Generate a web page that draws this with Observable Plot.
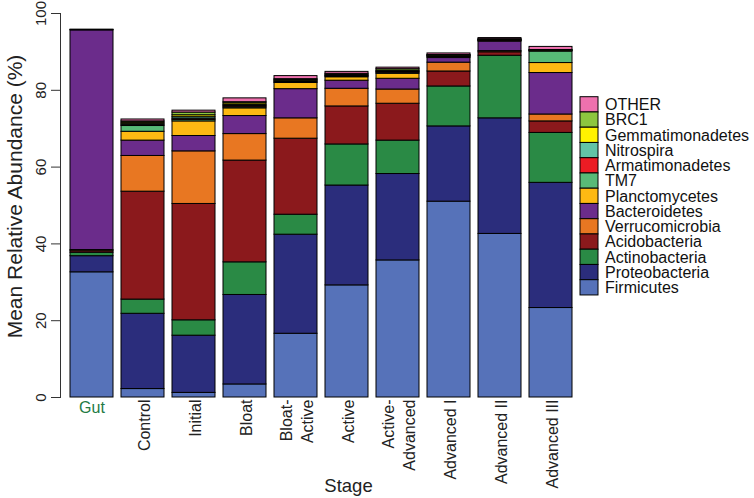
<!DOCTYPE html>
<html>
<head>
<meta charset="utf-8">
<script src="https://cdn.jsdelivr.net/npm/d3@7"></script>
<script src="https://cdn.jsdelivr.net/npm/@observablehq/plot@0.6"></script>
<style>
  body { margin: 0; background: #fff; }
  #chart svg { display: block; }
</style>
</head>
<body>
<div id="chart"></div>
<script>
const stages = ["Gut", "Control", "Initial", "Bloat", "Bloat-Active", "Active", "Active-Advanced", "Advanced I", "Advanced II", "Advanced III"];
const stageLabels = ["Gut", "Control", "Initial", "Bloat", "Bloat-\nActive", "Active", "Active-\nAdvanced", "Advanced I", "Advanced II", "Advanced III"];

// stacking order, bottom first
const phyla = ["Firmicutes", "Proteobacteria", "Actinobacteria", "Acidobacteria", "Verrucomicrobia", "Bacteroidetes", "Planctomycetes", "TM7", "Armatimonadetes", "Nitrospira", "Gemmatimonadetes", "BRC1", "OTHER"];
const colors = ["#5672b9", "#2b2d7c", "#2a8a45", "#8b191c", "#e87722", "#6b2c8b", "#fdb913", "#58ba77", "#ec1c24", "#62c3a6", "#fff200", "#8dc63f", "#ee71ae"];

const Firmicutes       = [32.6, 2.2, 1.2, 3.4, 16.6, 29.2, 35.7, 51.0, 42.6, 23.3];
const Proteobacteria   = [4.2, 19.6, 14.9, 23.3, 25.8, 26.0, 22.5, 19.6, 30.1, 32.6];
const Actinobacteria   = [0.9, 3.7, 4.0, 8.5, 5.2, 10.7, 8.7, 10.4, 16.3, 13.0];
const Acidobacteria    = [0.4, 28.1, 30.3, 26.5, 19.8, 9.9, 9.6, 3.9, 0.9, 3.0];
const Verrucomicrobia  = [0.3, 9.3, 13.7, 6.9, 5.3, 4.6, 3.7, 2.3, 0.3, 1.8];
const Bacteroidetes    = [57.2, 4.0, 4.0, 4.7, 7.6, 2.1, 2.8, 1.2, 2.5, 10.8];
const Planctomycetes   = [0.1, 2.3, 3.8, 2.0, 1.6, 0.9, 1.3, 0.3, 0.1, 2.6];
const TM7              = [0, 1.5, 0.4, 0.3, 0.2, 0.2, 0.3, 0.1, 0.1, 3.0];
const Armatimonadetes  = [0, 0.3, 0.3, 0.3, 0.2, 0.1, 0.1, 0.1, 0.1, 0.1];
const Nitrospira       = [0, 0.3, 0.4, 0.3, 0.2, 0.2, 0.2, 0.1, 0.1, 0.1];
const Gemmatimonadetes = [0, 0.3, 0.5, 0.4, 0.2, 0.2, 0.2, 0.1, 0.1, 0.1];
const BRC1             = [0, 0.3, 0.7, 0.3, 0.2, 0.2, 0.4, 0.1, 0.1, 0.1];
const OTHER            = [0.1, 0.5, 0.5, 1.0, 0.8, 0.5, 0.4, 0.4, 0.3, 0.8];

const yTicks = [0, 20, 40, 60, 80, 100];

const series = {Firmicutes, Proteobacteria, Actinobacteria, Acidobacteria, Verrucomicrobia, Bacteroidetes, Planctomycetes, TM7, Armatimonadetes, Nitrospira, Gemmatimonadetes, BRC1, OTHER};
const data = [];
phyla.forEach(p => series[p].forEach((v, i) => data.push({stage: stages[i], phylum: p, value: v})));

const font = "'Liberation Sans', Arial, Helvetica, sans-serif";

const chart = Plot.plot({
  width: 754,
  height: 498,
  marginTop: 13,
  marginBottom: 101,
  marginLeft: 60,
  marginRight: 172,
  style: {fontFamily: font, background: "#fff", color: "#000"},
  x: {domain: stages, paddingInner: 0.16, paddingOuter: 0.176, axis: null},
  y: {domain: [0, 100], axis: null},
  color: {domain: phyla, range: colors},
  marks: [
    Plot.barY(data, {x: "stage", y: "value", fill: "phylum", stroke: "#000", strokeWidth: 1}),
    Plot.frame({anchor: "left", stroke: "#333"}),
    Plot.axisY({ticks: yTicks, tickSize: 9, tickFormat: () => "", label: null, stroke: "#333"}),
    Plot.text(yTicks, {y: d => d, text: d => String(d), frameAnchor: "left", dx: -15, rotate: -90, textAnchor: "middle", lineAnchor: "bottom", fontSize: 15, fill: "#222"}),
    Plot.text(["Mean Relative Abundance (%)"], {frameAnchor: "left", dx: -39, dy: -9, rotate: -90, textAnchor: "middle", lineAnchor: "bottom", fontSize: 21, fill: "#222"}),
    Plot.text(stages.slice(1), {x: d => d, text: d => stageLabels[stages.indexOf(d)], frameAnchor: "bottom", dy: 2, rotate: -90, textAnchor: "end", lineAnchor: "middle", lineHeight: 1.3, fontSize: 16, fill: "#222"}),
    Plot.text(["Gut"], {x: d => d, frameAnchor: "bottom", dy: 4, textAnchor: "middle", lineAnchor: "top", fontSize: 16, fill: "#237a45"}),
    Plot.text(["Stage"], {frameAnchor: "bottom", dx: 27, dy: 94, textAnchor: "middle", lineAnchor: "bottom", fontSize: 18.5, fill: "#222"})
  ]
});

document.getElementById("chart").appendChild(chart);

// Legend (top to bottom: reverse of stack order)
const svg = d3.select(chart);
const legend = svg.append("g").attr("font-family", font).attr("font-size", 16).attr("text-anchor", "start");
const legendItems = phyla.slice().reverse();
const rowH = 15.25, x0 = 580, y0 = 96.7;
legendItems.forEach((p, i) => {
  const y = y0 + i * rowH;
  legend.append("rect").attr("x", x0).attr("y", y).attr("width", 18).attr("height", rowH)
    .attr("fill", colors[phyla.indexOf(p)]).attr("stroke", "#000").attr("stroke-width", 1);
  legend.append("text").attr("x", 605).attr("y", y + rowH / 2).attr("dy", "0.36em")
    .attr("text-anchor", "start").attr("fill", "#111").text(p);
});
</script>
</body>
</html>
